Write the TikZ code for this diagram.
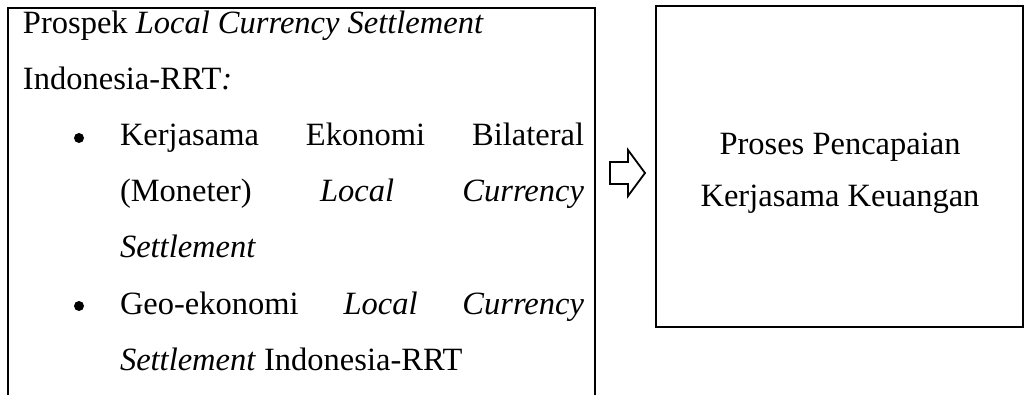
\documentclass[tikz,border=0pt]{standalone}
\usepackage{fontspec}
\setmainfont{Liberation Serif}
\begin{document}
\begin{tikzpicture}[x=1pt,y=-1pt,
  every node/.style={inner sep=0pt, outer sep=0pt, font=\fontsize{32.5}{38}\selectfont},
  frame/.style={line width=2.2pt},
  hollowarrow/.style={line width=1.8pt, line join=miter, fill=white},
  txt/.style={anchor=base west},
  ctxt/.style={anchor=base},
  dot/.style={circle, fill=black, minimum size=10pt}]
\useasboundingbox (0,0) rectangle (1025,395);
% left box (open at the bottom)
\draw[frame] (8,395) -- (8,8) -- (595,8) -- (595,395);
% right box
\draw[frame] (656,6) rectangle (1023,327);
% arrow
\draw[hollowarrow] (610,162) -- (628,162) -- (628,150) -- (645,173) -- (628,196) -- (628,184) -- (610,184) -- cycle;
% left text
\node[txt] (l1) at (23,34) {Prospek \textit{Local Currency Settlement}};
\node[txt] (l2) at (23,90) {Indonesia-RRT\textit{:}};
\node[dot] (b1) at (79,138) {};
\node[txt] (l3) at (120,146) {\makebox[464pt][s]{Kerjasama Ekonomi Bilateral}};
\node[txt] (l4) at (120,202) {\makebox[464pt][s]{(Moneter) \textit{Local Currency}}};
\node[txt] (l5) at (120,258) {\textit{Settlement}};
\node[dot] (b2) at (79,306) {};
\node[txt] (l6) at (120,314) {\makebox[464pt][s]{Geo-ekonomi \textit{Local Currency}}};
\node[txt] (l7) at (120,370) {\textit{Settlement} Indonesia-RRT};
% right text
\node[ctxt] (r1) at (840,155) {Proses Pencapaian};
\node[ctxt] (r2) at (840,207) {Kerjasama Keuangan};
\end{tikzpicture}
\end{document}
